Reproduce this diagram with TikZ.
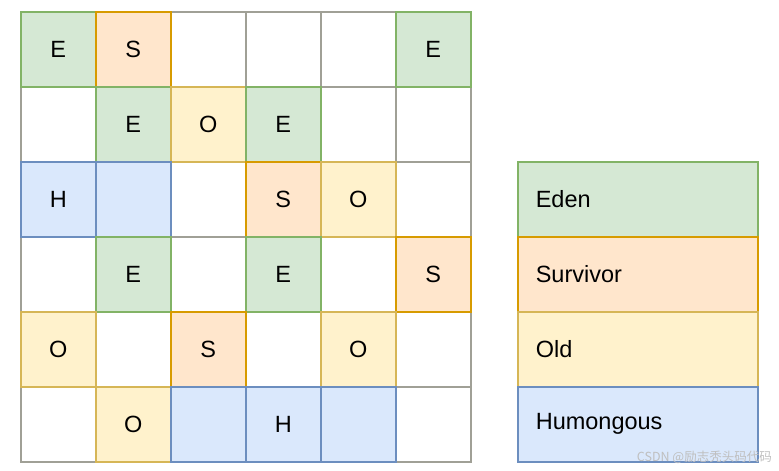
\documentclass[tikz,border=0pt]{standalone}
\usepackage{fontspec}
\setmainfont{Liberation Sans}
\newfontfamily\cjkfont{Noto Sans CJK SC}
\definecolor{gfill}{HTML}{D5E8D4}\definecolor{gline}{HTML}{82B366}
\definecolor{ofill}{HTML}{FFE6CC}\definecolor{oline}{HTML}{D79B00}
\definecolor{yfill}{HTML}{FFF2CC}\definecolor{yline}{HTML}{D6B656}
\definecolor{bfill}{HTML}{DAE8FC}\definecolor{bline}{HTML}{6C8EBF}
\definecolor{wline}{HTML}{A0A096}
\begin{document}
\begin{tikzpicture}[x=1pt,y=-1pt,
  cell/.style={draw=wline,fill=white,line width=1.6pt,minimum width=75pt,minimum height=75pt,inner sep=0pt,
    font=\fontsize{23.5}{28}\selectfont,anchor=north west},
  ecell/.style={cell,draw=gline,fill=gfill},
  scell/.style={cell,draw=oline,fill=ofill},
  ocell/.style={cell,draw=yline,fill=yfill},
  hcell/.style={cell,draw=bline,fill=bfill},
  leg/.style={line width=1.6pt,minimum width=240pt,minimum height=75pt,inner sep=0pt,anchor=north west,
    font=\fontsize{23.5}{28}\selectfont,text width=204pt,align=left}]
\useasboundingbox (0,0) rectangle (779,471);
% white cells
\foreach \r in {0,...,5}{\foreach \c in {0,...,5}{
  \node[cell] (w\r\c) at (20+75*\c,11+75*\r) {};}}
% row 0
\node[ecell] (c00) at (20,11) {E};
\node[scell] (c01) at (95,11) {S};
\node[ecell] (c05) at (395,11) {E};
% row 1
\node[ecell] (c11) at (95,86) {E};
\node[ocell] (c12) at (170,86) {O};
\node[ecell] (c13) at (245,86) {E};
% row 2
\node[hcell] (c20) at (20,161) {H};
\node[hcell] (c21) at (95,161) {};
\node[scell] (c23) at (245,161) {S};
\node[ocell] (c24) at (320,161) {O};
% row 3
\node[ecell] (c31) at (95,236) {E};
\node[ecell] (c33) at (245,236) {E};
\node[scell] (c35) at (395,236) {S};
% row 4
\node[ocell] (c40) at (20,311) {O};
\node[scell] (c42) at (170,311) {S};
\node[ocell] (c44) at (320,311) {O};
% row 5
\node[ocell] (c51) at (95,386) {O};
\node[hcell] (c52) at (170,386) {};
\node[hcell] (c53) at (245,386) {H};
\node[hcell] (c54) at (320,386) {};
% legend
\node[leg,draw=gline,fill=gfill] (eden) at (517,161) {Eden};
\node[leg,draw=oline,fill=ofill] (surv) at (517,236) {Survivor};
\node[leg,draw=yline,fill=yfill] (old) at (517,311) {Old};
\node[leg,draw=bline,fill=bfill] (hum) at (517,386) {Humongous};
% watermark
\node[anchor=east,inner sep=0pt,text=gray!50,font=\cjkfont\fontsize{12.5}{14}\selectfont] (wm) at (772,457) {CSDN @励志秃头码代码};
\end{tikzpicture}
\end{document}
